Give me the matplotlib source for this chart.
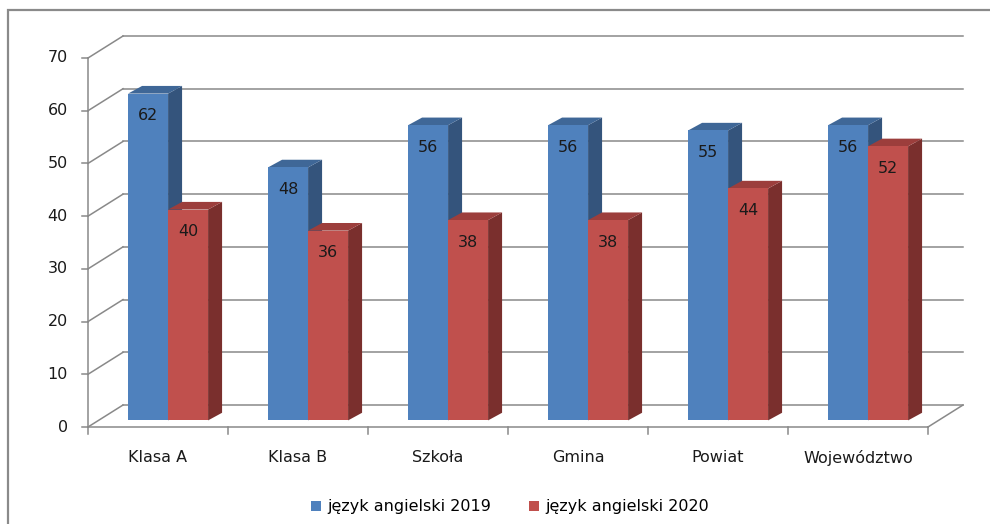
import numpy as np
import matplotlib.pyplot as plt
from matplotlib.patches import Polygon, Rectangle

categories = ['Klasa A', 'Klasa B', 'Szkoła', 'Gmina', 'Powiat', 'Województwo']
y2019 = [62, 48, 56, 56, 55, 56]
y2020 = [40, 36, 38, 38, 44, 52]
labels = ['język angielski 2019', 'język angielski 2020']
yticks = np.arange(0, 71, 10)

# colours: front, top, side
blue = ('#4F81BD', '#3F6797', '#34547C')
red = ('#C0504D', '#9C3E3C', '#7A2F2D')
gray = '#898989'
fs = 11.5

# depth of the back wall and of the bars, in data units
DX, DY = 0.25, 4.17
SX, SY = 0.072, 1.25       # bars sit a bit behind the front plane
BDX, BDY = 0.1, 1.45       # bar depth
BW = 0.2857

fig = plt.figure(figsize=(9.9, 5.24), dpi=100)
ax = fig.add_axes([88 / 990, 97 / 524, 840 / 990, 369 / 524])
ax.set_xlim(0, 6)
ax.set_ylim(0, 70)
ax.axis('off')

# outer frame
fig.patches.append(Rectangle((8 / 990, -0.05), 1.1, 1 - 10 / 524 + 0.05,
                             transform=fig.transFigure, fill=False,
                             edgecolor='#8a8a8a', linewidth=1.6))

lw = 1.1
n = len(categories)
# back wall gridlines and left wall diagonals
for v in yticks:
    ax.plot([DX, n + DX], [v + DY, v + DY], color=gray, lw=lw, clip_on=False, zorder=1)
    ax.plot([0, DX], [v, v + DY], color=gray, lw=lw, clip_on=False, zorder=1)
    ax.plot([-0.043, 0], [v, v], color=gray, lw=lw, clip_on=False)
    ax.annotate(str(v), (0, v), xytext=(-20, 0), textcoords='offset pixels',
                ha='right', va='center', fontsize=fs, color='#1a1a1a')
# front axis and floor
ax.plot([0, 0], [0, 70], color=gray, lw=lw, clip_on=False, zorder=1)
ax.plot([0, n], [0, 0], color=gray, lw=lw, clip_on=False, zorder=1)
ax.plot([n, n + DX], [0, DY], color=gray, lw=lw, clip_on=False, zorder=1)
for i in range(n + 1):
    ax.plot([i, i], [0, -1.3], color=gray, lw=lw, clip_on=False)


def box(x0, h, cols, z):
    x1 = x0 + BW
    y0 = SY
    top = h + SY
    xs0, xs1 = x0 + SX, x1 + SX
    ax.add_patch(Polygon([(xs1, y0), (xs1 + BDX, y0 + BDY), (xs1 + BDX, top + BDY), (xs1, top)],
                         closed=True, facecolor=cols[2], edgecolor='none', zorder=z, clip_on=False))
    ax.add_patch(Polygon([(xs0, top), (xs0 + BDX, top + BDY), (xs1 + BDX, top + BDY), (xs1, top)],
                         closed=True, facecolor=cols[1], edgecolor='none', zorder=z, clip_on=False))
    front = Rectangle((xs0, y0), BW, h, facecolor=cols[0], edgecolor='none', zorder=z, clip_on=False)
    ax.add_patch(front)
    ax.annotate(str(h), (xs0 + BW / 2, top), xytext=(0, -22), textcoords='offset pixels',
                ha='center', va='center', fontsize=fs, color='#1a1a1a', zorder=z + 0.5)
    return front


handles = []
for i in range(n):
    hb = box(i + 0.5 - BW, y2019[i], blue, 3)
    hr = box(i + 0.5, y2020[i], red, 4)
    ax.annotate(categories[i], (i + 0.5, 0), xytext=(0, -31), textcoords='offset pixels',
                ha='center', va='center', fontsize=fs, color='#1a1a1a')
    if i == 0:
        handles = [hb, hr]

fig.legend(handles, labels, loc='center', bbox_to_anchor=(510 / 990, 1 - 507 / 524),
           ncol=2, frameon=False, fontsize=fs, handlelength=0.6, handleheight=0.6,
           handletextpad=0.4, columnspacing=2.4)

plt.savefig('out.png', dpi=100)
